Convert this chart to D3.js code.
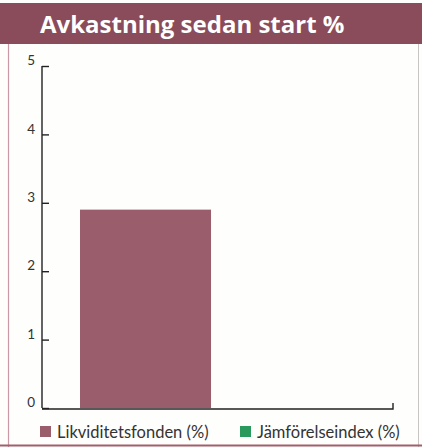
<!DOCTYPE html>
<html>
<head>
<meta charset="utf-8">
<script src="https://cdn.jsdelivr.net/npm/d3@7"></script>
<style>
  html, body { margin: 0; padding: 0; background: #fefefd; }
  svg { display: block; }
</style>
</head>
<body>
<script>
// Returns since start, in percent
const series = ["Likviditetsfonden (%)", "Jämförelseindex (%)"];
const values = [2.9, null];
const colors = ["#9a5d6c", "#2a9a5c"];
const yTicks = [0, 1, 2, 3, 4, 5];
const title = "Avkastning sedan start %";

const W = 422, H = 447;
const svg = d3.select("body").append("svg").attr("width", W).attr("height", H);

// Page frame
svg.append("rect").attr("x", 0).attr("y", 0).attr("width", W).attr("height", H).attr("fill", "#fefefd");
svg.append("rect").attr("x", 0).attr("y", 3).attr("width", W).attr("height", 41).attr("fill", "#8a4b5b");
svg.append("line").attr("x1", 8.5).attr("x2", 8.5).attr("y1", 44).attr("y2", H)
  .attr("stroke", "#c99aa5").attr("stroke-width", 1.2);
svg.append("line").attr("x1", 418.5).attr("x2", 418.5).attr("y1", 44).attr("y2", H)
  .attr("stroke", "#c8c4c4").attr("stroke-width", 1);
svg.append("line").attr("x1", 0).attr("x2", W).attr("y1", 445.5).attr("y2", 445.5)
  .attr("stroke", "#a0606a").attr("stroke-width", 2);

svg.append("text").attr("x", 40).attr("y", 33)
  .attr("fill", "#ffffff").attr("font-family", "'Open Sans', sans-serif")
  .attr("font-weight", "bold").attr("font-size", 24).text(title);

// Scales
const x0 = 42, x1 = 393, y0 = 408, y1 = 66;
const x = d3.scaleBand().domain(series).range([x0, x1]).paddingInner(0.09).paddingOuter(0.264);
const y = d3.scaleLinear().domain([0, 5]).range([y0, y1]);

// Bars
svg.append("g").selectAll("rect")
  .data(series.map((s, i) => ({ s, v: values[i], c: colors[i] })).filter(d => d.v != null))
  .join("rect")
  .attr("x", d => x(d.s)).attr("width", x.bandwidth())
  .attr("y", d => y(d.v)).attr("height", d => y(0) - y(d.v))
  .attr("fill", d => d.c);

// Y axis
const yAxis = d3.axisRight(y).tickValues(yTicks).tickSize(7).tickFormat(d3.format("d"));
const gy = svg.append("g").attr("transform", `translate(${x0},0)`).call(yAxis);
gy.select(".domain").attr("d", `M0,${y1}V${y0}`).attr("stroke", "#222").attr("stroke-width", 1.4);
gy.selectAll(".tick line").attr("stroke", "#222").attr("stroke-width", 1.4);
gy.selectAll(".tick text").attr("x", -7).attr("text-anchor", "end")
  .attr("fill", "#333").attr("font-family", "Lato, sans-serif").attr("font-size", 13.5).attr("dy", "-0.1em");

// X axis baseline with end tick
svg.append("path").attr("d", `M${x0},${y0 + 1}H${x1}V${y0 - 5}`)
  .attr("fill", "none").attr("stroke", "#222").attr("stroke-width", 1.4);

// Legend
const legX = [40, 240];
const leg = svg.append("g").selectAll("g").data(series).join("g")
  .attr("transform", (d, i) => `translate(${legX[i]},426)`);
leg.append("rect").attr("width", 11).attr("height", 11).attr("fill", (d, i) => colors[i]);
leg.append("text").attr("x", 17).attr("y", 12)
  .attr("fill", "#333").attr("font-family", "Lato, sans-serif").attr("font-size", 16.5).text(d => d);
</script>
</body>
</html>
